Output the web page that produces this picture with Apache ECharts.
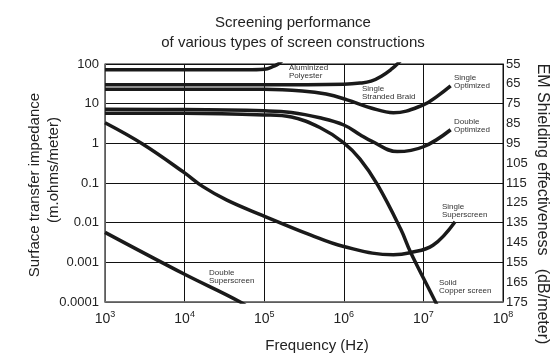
<!DOCTYPE html>
<html>
<head>
<meta charset="utf-8">
<script src="https://cdn.jsdelivr.net/npm/echarts@6/dist/echarts.min.js"></script>
<style>
  html, body { margin: 0; padding: 0; background: #fff; }
  #chart { width: 555px; height: 353px; }
</style>
</head>
<body>
<div id="chart"></div>
<script>
// [frequency Hz, transfer impedance m.ohms/meter]
const aluminizedPolyester = [[1e3, 72], [1e4, 72], [7e4, 72], [1.1e5, 76], [1.3e5, 87], [1.5e5, 100], [1.7e5, 125]]
const singleStrandedBraid = [[1e3, 30], [1e5, 30], [1e6, 31], [1.6e6, 33], [2.2e6, 37], [3e6, 50], [4e6, 75], [4.7e6, 100], [5.5e6, 140]]
const singleOptimized = [[1e3, 23], [1e5, 23], [3e5, 21], [6e5, 17.5], [1.1e6, 12.5], [2.2e6, 7.8], [4.2e6, 5.9], [1e7, 9.3], [1.5e7, 15.5], [2.2e7, 28]]
const doubleOptimized = [[1e3, 7.2], [1e4, 7.1], [1e5, 6.6], [2.2e5, 6.0], [5e5, 4.4], [1e6, 2.9], [1.6e6, 1.65], [2.2e6, 1.15], [4.7e6, 0.62], [1e7, 0.82], [2.2e7, 2.2]]
const solidCopper = [[1e3, 5.7], [1e4, 5.7], [1e5, 5.2], [2.2e5, 4.6], [5e5, 2.5], [1e6, 1.03], [1.6e6, 0.4], [2.65e6, 0.091], [5.2e6, 0.0068], [6.9e6, 0.0018], [1.42e7, 0.0001], [1.6e7, 0.00006]]
const singleSuperscreen = [[1e3, 3.3], [3e3, 0.95], [1e4, 0.18], [1.7e4, 0.081], [3.4e4, 0.037], [9.3e4, 0.0155], [3.8e5, 0.0049], [1e6, 0.0025], [4.2e6, 0.00155], [6.8e6, 0.00175], [1.32e7, 0.0027], [2.5e7, 0.0106]]
const doubleSuperscreen = [[1e3, 0.0057], [1e4, 0.0005], [5e4, 0.0001], [7e4, 0.00006]]

const curves = [aluminizedPolyester, singleStrandedBraid, singleOptimized, doubleOptimized, solidCopper, singleSuperscreen, doubleSuperscreen]

const chart = echarts.init(document.getElementById('chart'), null, { renderer: 'canvas' })

const FONT = '"Liberation Sans", Arial, sans-serif'

const smallText = (x, y, text) => ({
  type: 'text', left: x, top: y,
  style: { text, font: '8px ' + FONT, fill: '#333', lineHeight: 8 }
})

const bigText = (x, y, text, size, rotation) => ({
  type: 'text', x, y, rotation: rotation || 0,
  style: { text, font: size + 'px ' + FONT, fill: '#222', align: 'center', verticalAlign: 'middle' }
})

chart.setOption({
  animation: false,
  backgroundColor: '#fff',
  textStyle: { fontFamily: FONT },
  grid: { left: 105, right: 52, top: 64, bottom: 51, show: true, borderColor: '#111', borderWidth: 1, outerBoundsMode: 'none' },
  xAxis: {
    type: 'log', logBase: 10, min: 1e3, max: 1e8, splitNumber: 5,
    axisLine: { show: true, lineStyle: { color: '#777', width: 1.5 } },
    axisTick: { show: false },
    splitLine: { show: true, lineStyle: { color: '#111', width: 1 } },
    axisLabel: {
      margin: 8,
      formatter: v => '{b|10}{s|' + Math.round(Math.log10(v)) + '}',
      rich: {
        b: { fontSize: 14, lineHeight: 18, color: '#222' },
        s: { fontSize: 9, lineHeight: 10, verticalAlign: 'top', color: '#222' }
      }
    }
  },
  yAxis: [
    {
      type: 'log', logBase: 10, min: 1e-4, max: 100, splitNumber: 6,
      axisLine: { show: true, lineStyle: { color: '#777', width: 1.5 } },
      axisTick: { show: false },
      splitLine: { show: true, lineStyle: { color: '#111', width: 1 } },
      axisLabel: {
        margin: 6, fontSize: 13, color: '#222',
        formatter: v => v >= 1 ? String(Math.round(v)) : v.toFixed(-Math.round(Math.log10(v)))
      }
    },
    {
      type: 'value', position: 'right', min: 55, max: 175, interval: 10, inverse: true,
      axisLine: { show: true, lineStyle: { color: '#111', width: 1 } },
      axisTick: { show: false },
      splitLine: { show: false },
      axisLabel: { margin: 3, fontSize: 13, color: '#222' }
    }
  ],
  series: curves.map(d => ({
    type: 'line', data: d, smooth: 0.4, symbol: 'none', clip: true,
    lineStyle: { color: '#1a1a1a', width: 3.5 }
  })),
  graphic: [
    bigText(293, 23, 'Screening performance', 15),
    bigText(293, 43, 'of various types of screen constructions', 15),
    bigText(35, 185, 'Surface transfer impedance', 15, Math.PI / 2),
    bigText(54, 170, '(m.ohms/meter)', 15, Math.PI / 2),
    bigText(542, 204, 'EM Shielding effectiveness   (dB/meter)', 16, -Math.PI / 2),
    bigText(317, 346, 'Frequency (Hz)', 15),
    smallText(289, 64, 'Aluminized\nPolyester'),
    smallText(362, 85, 'Single\nStranded Braid'),
    smallText(454, 74, 'Single\nOptimized'),
    smallText(454, 118, 'Double\nOptimized'),
    smallText(442, 203, 'Single\nSuperscreen'),
    smallText(439, 279, 'Solid\nCopper screen'),
    smallText(209, 269, 'Double\nSuperscreen')
  ]
})
</script>
</body>
</html>
